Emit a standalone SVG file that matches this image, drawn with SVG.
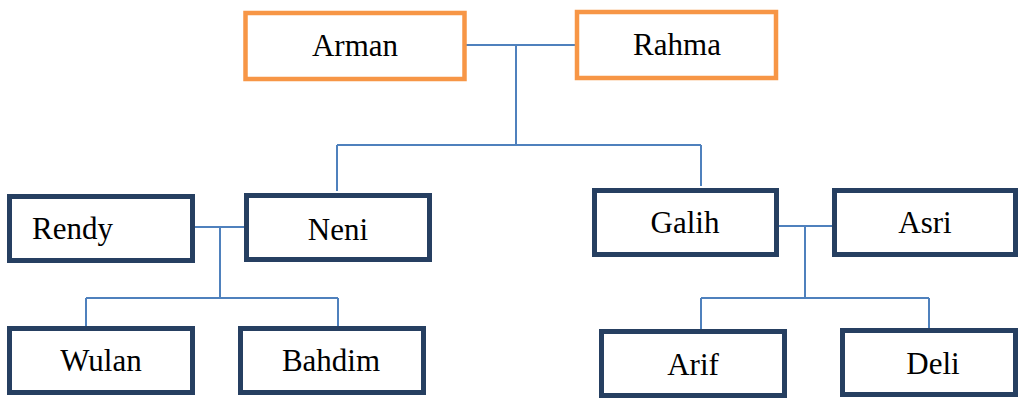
<svg xmlns="http://www.w3.org/2000/svg" width="1018" height="399" viewBox="0 0 1018 399">
<style>
.o{fill:#fff;stroke:#F79646;stroke-width:4.5}
.d{fill:#fff;stroke:#263F61;stroke-width:5}
text{font-family:"Liberation Serif","Times New Roman",serif;font-size:31px;fill:#000;text-anchor:middle}
.c{fill:none;stroke:#4F81BD;stroke-width:2}
</style>
<rect width="1018" height="399" fill="#fff"/>
<g id="connectors" class="c">
<path d="M466 45H576M516 45V145M337 145H701M337 145V191M701 145V186"/>
<path d="M194 227H246M220 227V298M86 298H338M86 298V326M338 298V326"/>
<path d="M778 226H833M805 226V298M701 298H929M701 298V330M929 298V329"/>
</g>
<g id="arman"><rect class="o" x="245.5" y="13" width="219" height="66"/><text x="355" y="56">Arman</text></g>
<g id="rahma"><rect class="o" x="577" y="12" width="199" height="66"/><text x="677" y="55">Rahma</text></g>
<g id="rendy"><rect class="d" x="9.5" y="196.5" width="183" height="64"/><text x="32" y="239" style="text-anchor:start">Rendy</text></g>
<g id="neni"><rect class="d" x="246.5" y="195.5" width="183" height="64"/><text x="338" y="240">Neni</text></g>
<g id="galih"><rect class="d" x="594.5" y="190.5" width="182" height="64"/><text x="685" y="233">Galih</text></g>
<g id="asri"><rect class="d" x="834.5" y="190.5" width="181" height="64"/><text x="925" y="233">Asri</text></g>
<g id="wulan"><rect class="d" x="9.5" y="328.5" width="183" height="64"/><text x="101" y="371">Wulan</text></g>
<g id="bahdim"><rect class="d" x="240.5" y="328.5" width="183" height="64"/><text x="331" y="371">Bahdim</text></g>
<g id="arif"><rect class="d" x="601.5" y="331.5" width="183" height="64"/><text x="693" y="375">Arif</text></g>
<g id="deli"><rect class="d" x="842.5" y="330.5" width="173" height="64"/><text x="933" y="374">Deli</text></g>
</svg>
